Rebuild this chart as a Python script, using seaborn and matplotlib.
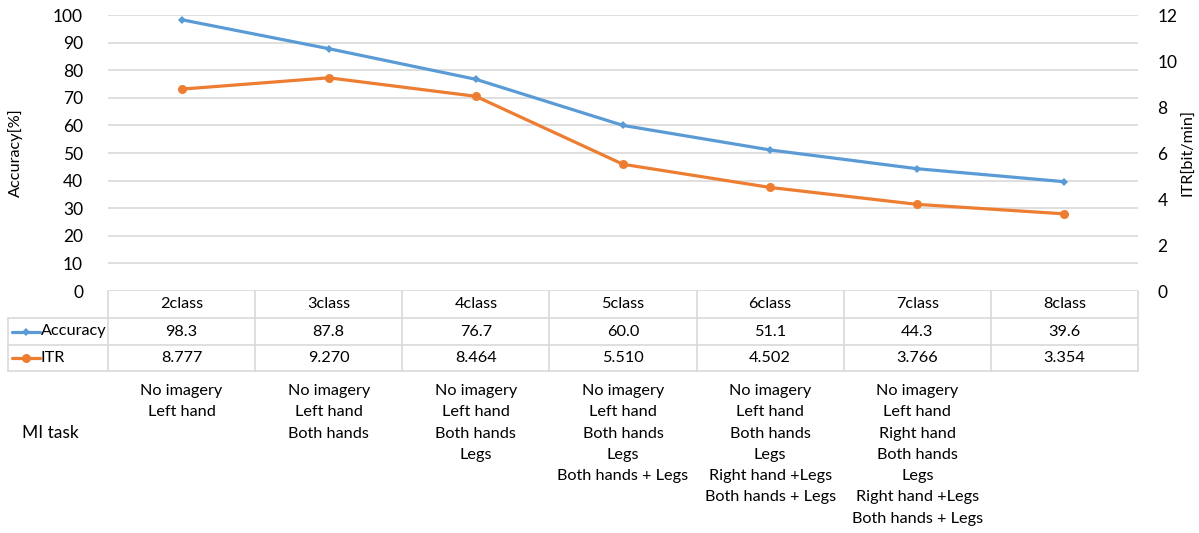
import matplotlib
matplotlib.use("Agg")
import matplotlib.pyplot as plt
from matplotlib.lines import Line2D
import seaborn as sns
import pandas as pd

classes = ["2class", "3class", "4class", "5class", "6class", "7class", "8class"]
accuracy = [98.3, 87.8, 76.7, 60.0, 51.1, 44.3, 39.6]
itr = [8.777, 9.270, 8.464, 5.510, 4.502, 3.766, 3.354]
accuracy_labels = ["98.3", "87.8", "76.7", "60.0", "51.1", "44.3", "39.6"]
itr_labels = ["8.777", "9.270", "8.464", "5.510", "4.502", "3.766", "3.354"]
tasks = [
    ["No imagery", "Left hand"],
    ["No imagery", "Left hand", "Both hands"],
    ["No imagery", "Left hand", "Both hands", "Legs"],
    ["No imagery", "Left hand", "Both hands", "Legs", "Both hands + Legs"],
    ["No imagery", "Left hand", "Both hands", "Legs", "Right hand +Legs", "Both hands + Legs"],
    ["No imagery", "Left hand", "Right hand", "Both hands", "Legs", "Right hand +Legs", "Both hands + Legs"],
    [],
]
left_ticks = [0, 10, 20, 30, 40, 50, 60, 70, 80, 90, 100]
right_ticks = [0, 2, 4, 6, 8, 10, 12]

df = pd.DataFrame({"pos": range(len(classes)), "Accuracy": accuracy, "ITR": itr})

sns.set_theme(style="white")
plt.rcParams["font.family"] = ["Lato", "DejaVu Sans"]

BLUE = "#5B9BD5"
ORANGE = "#ED7D31"
GRID = "#D9D9D9"
TXT = "#000000"
FS = 11.7

W, H = 1199, 533
fig = plt.figure(figsize=(W / 100, H / 100), dpi=100)

# plot area in pixels
px0, px1, py_top, py_bot = 108, 1138, 15, 291
ax = fig.add_axes([px0 / W, (H - py_bot) / H, (px1 - px0) / W, (py_bot - py_top) / H])
ax2 = ax.twinx()

sns.lineplot(data=df, x="pos", y="Accuracy", ax=ax, color=BLUE, lw=2.3,
             marker="D", markersize=4.5, markeredgewidth=0, zorder=3)
sns.lineplot(data=df, x="pos", y="ITR", ax=ax2, color=ORANGE, lw=2.3,
             marker="o", markersize=6.5, markeredgewidth=0, zorder=3)

ax.set_xlim(-0.5, len(classes) - 0.5)
ax.set_ylim(0, 100)
ax2.set_ylim(0, 12)
ax.set_yticks(left_ticks)
ax2.set_yticks(right_ticks)
ax.set_xticks([])
ax.set_xlabel("")
ax.set_ylabel("")
ax2.set_ylabel("")
ax.yaxis.grid(True, color=GRID, lw=1.2)
ax.xaxis.grid(False)
for a in (ax, ax2):
    for s in a.spines.values():
        s.set_visible(False)
    a.tick_params(length=0, labelsize=12.5, colors=TXT)
ax.tick_params(axis="y", pad=18)
ax2.tick_params(axis="y", pad=14)
for t in ax2.get_yticklabels():
    t.set_horizontalalignment("left")

fig.text(15 / W, 1 - 153 / H, "Accuracy[%]", rotation=90, ha="center", va="center",
         fontsize=FS, color=TXT)
fig.text(1188 / W, 1 - 153 / H, "ITR[bit/min]", rotation=90, ha="center", va="center",
         fontsize=FS, color=TXT)

# data table beneath the plot
def fy(ypix):
    return (py_bot - ypix) / (py_bot - py_top)

tr = ax.get_xaxis_transform()
row_y = [291, 318, 345, 371]
for i, c in enumerate(classes):
    ax.text(i, fy(304.5), c, transform=tr, ha="center", va="center", fontsize=FS, color=TXT, clip_on=False)
    ax.text(i, fy(331.5), accuracy_labels[i], transform=tr, ha="center", va="center", fontsize=FS, color=TXT, clip_on=False)
    ax.text(i, fy(358), itr_labels[i], transform=tr, ha="center", va="center", fontsize=FS, color=TXT, clip_on=False)
    for k, line in enumerate(tasks[i]):
        ax.text(i, fy(391 + 21.3 * k), line, transform=tr, ha="center", va="center",
                fontsize=FS, color=TXT, clip_on=False)

def hline(x0, x1, y):
    fig.add_artist(Line2D([x0 / W, x1 / W], [1 - y / H, 1 - y / H], color=GRID, lw=1.2))

def vline(x, y0, y1):
    fig.add_artist(Line2D([x / W, x / W], [1 - y0 / H, 1 - y1 / H], color=GRID, lw=1.2))

for y in row_y[1:]:
    hline(8, px1, y)
cell_w = (px1 - px0) / len(classes)
for j in range(len(classes) + 1):
    vline(px0 + j * cell_w, 291, 371)
vline(8, 318, 371)

# legend keys inside the table
for name, col, mk, ms, yc in [("Accuracy", BLUE, "D", 4.5, 331.5), ("ITR", ORANGE, "o", 6.5, 358)]:
    fig.add_artist(Line2D([12 / W, 40 / W], [1 - yc / H, 1 - yc / H], color=col, lw=2.3))
    fig.add_artist(Line2D([26 / W], [1 - yc / H], color=col, marker=mk, markersize=ms,
                          markeredgewidth=0))
    fig.text(41 / W, 1 - yc / H, name, ha="left", va="center", fontsize=FS, color=TXT)

fig.text(22 / W, 1 - 433 / H, "MI task", ha="left", va="center", fontsize=12.5, color=TXT)

fig.savefig("out.png", dpi=100)
